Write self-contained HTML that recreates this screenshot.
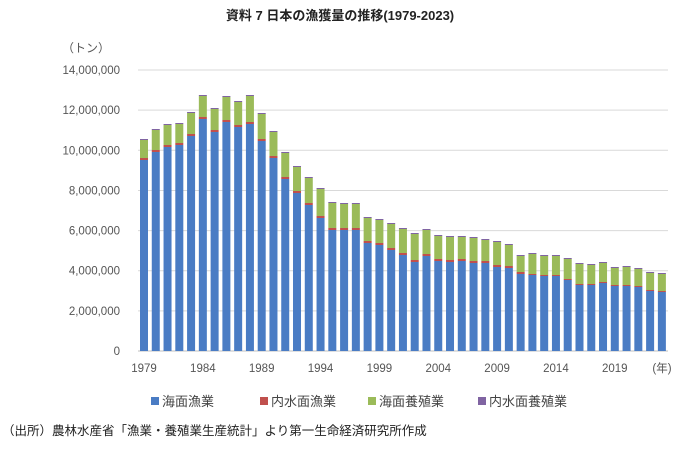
<!DOCTYPE html>
<html><head><meta charset="utf-8"><style>
body{margin:0;background:#fff;width:680px;height:446px;overflow:hidden}
svg text{font-family:"Liberation Sans","Noto Sans CJK JP",sans-serif}
</style></head><body>
<svg id="c" width="680" height="446" xmlns="http://www.w3.org/2000/svg">
<text x="340" y="20" text-anchor="middle" font-size="13" font-weight="bold" fill="#222">資料 7  日本の漁獲量の推移(1979-2023)</text>
<text x="62" y="52" font-size="12" fill="#555">（トン）</text>
<g id="grid"></g><g id="bars"></g><g id="lab"></g>
<g font-size="13" fill="#444">
<rect x="151" y="397" width="8" height="8" fill="#4a7cc4"/><text x="162" y="406">海面漁業</text>
<rect x="260" y="397" width="8" height="8" fill="#c0504d"/><text x="271" y="406">内水面漁業</text>
<rect x="368" y="397" width="8" height="8" fill="#9bbb59"/><text x="379" y="406">海面養殖業</text>
<rect x="478" y="397" width="8" height="8" fill="#8064a2"/><text x="489" y="406">内水面養殖業</text>
</g>
<text x="2" y="435" font-size="12.5" fill="#222">（出所）農林水産省「漁業・養殖業生産統計」より第一生命経済研究所作成</text>
</svg>
<script>
var ns="http://www.w3.org/2000/svg";
function el(p,t,a,tx){var e=document.createElementNS(ns,t);for(var k in a)e.setAttribute(k,a[k]);if(tx)e.textContent=tx;document.getElementById(p).appendChild(e);}
var base=351,step=20.07;
var yl=["0","2,000,000","4,000,000","6,000,000","8,000,000","10,000,000","12,000,000","14,000,000"];
for(var i=0;i<8;i++){var y=base-i*2*step;
 if(i>0)el("grid","line",{x1:138,x2:668,y1:y,y2:y,stroke:"#d9d9d9","stroke-width":1});
 el("lab","text",{x:120,y:y+4,"text-anchor":"end","font-size":"11.5",fill:"#555"},yl[i]);}
el("grid","line",{x1:138,x2:668,y1:base,y2:base,stroke:"#bfbfbf","stroke-width":1});
var tot=[139,129,124,123,112,95,108,96,101,95,113,131,152,166,177,188,202,203,203,217,219,223,228,233,229,235,236,236,237,239,241,244,255,253,255,255,258,263,264,262,267,266,268,272,273];
var blu=[160,152,147,145,136,119,132,122,127,124,141,158,179,193,205,218,230,230,230,243,245,250,255,262,256,261,262,261,263,263,267,268,274,275,276,276,280,285,285,283,286,286,287,291,292];
for(var i=0;i<45;i++){var cx=144+i*11.77,x=cx-4,w=8;
 var r=i<33?2:1;
 el("bars","rect",{x:x,y:blu[i],width:w,height:base-blu[i],fill:"#4a7cc4"});
 el("bars","rect",{x:x,y:blu[i]-r,width:w,height:r,fill:"#c0504d"});
 el("bars","rect",{x:x,y:tot[i]+1,width:w,height:blu[i]-r-tot[i]-1,fill:"#9bbb59"});
 el("bars","rect",{x:x,y:tot[i],width:w,height:1,fill:"#8064a2"});
 if(i%5==0)el("lab","text",{x:cx,y:372,"text-anchor":"middle","font-size":"11.5",fill:"#555"},String(1979+i));}
el("lab","text",{x:662,y:372,"text-anchor":"middle","font-size":"11.5",fill:"#555"},"(年)");
</script>
</body></html>
